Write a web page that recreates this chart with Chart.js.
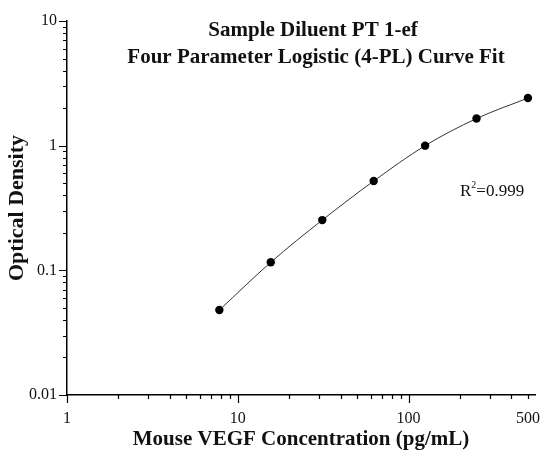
<!DOCTYPE html>
<html>
<head>
<meta charset="utf-8">
<script src="https://cdn.jsdelivr.net/npm/chart.js@4.4.0/dist/chart.umd.min.js"></script>
<style>
  html, body { margin: 0; padding: 0; background: #fff; }
  #wrap { width: 545px; height: 452px; }
</style>
</head>
<body>
<div id="wrap"><canvas id="grafico"></canvas></div>
<script>
// valores
const concentracao = [7.8, 15.6, 31.25, 62.5, 125, 250, 500];
const densidade = [0.048, 0.116, 0.253, 0.52, 1.0, 1.65, 2.41];

const ticksX = [1, 2, 3, 4, 5, 6, 7, 8, 9, 10, 20, 30, 40, 50, 60, 70, 80, 90, 100, 200, 300, 400, 500];
const decadasX = [1, 10, 100];
const rotulosX = [1, 10, 100, 500];

const ticksY = [0.01, 0.02, 0.03, 0.04, 0.05, 0.06, 0.07, 0.08, 0.09,
  0.1, 0.2, 0.3, 0.4, 0.5, 0.6, 0.7, 0.8, 0.9,
  1, 2, 3, 4, 5, 6, 7, 8, 9, 10];
const decadasY = [0.01, 0.1, 1, 10];
const rotulosY = [0.01, 0.1, 1, 10];

const titulo = ["Sample Diluent PT 1-ef", "Four Parameter Logistic (4-PL) Curve Fit"];
const tituloX = "Mouse VEGF Concentration (pg/mL)";
const tituloY = "Optical Density";
const r2 = "=0.999";

const serif = "'Liberation Serif', 'Times New Roman', serif";

// marcas maiores nas décadas, menores no resto
const marcas = {
  id: "marcas",
  afterDraw(chart) {
    const { ctx, scales: { x, y } } = chart;
    ctx.save();
    ctx.strokeStyle = "#000";
    ctx.lineWidth = 1.2;
    ctx.beginPath();
    ticksX.forEach(v => {
      const px = Math.round(x.getPixelForValue(v)) + 0.5;
      const len = decadasX.includes(v) ? 8 : 4;
      ctx.moveTo(px, y.bottom);
      ctx.lineTo(px, y.bottom + len);
    });
    ticksY.forEach(v => {
      const py = Math.round(y.getPixelForValue(v)) + 0.5;
      const len = decadasY.includes(v) ? 8 : 4;
      ctx.moveTo(x.left, py);
      ctx.lineTo(x.left - len, py);
    });
    ctx.stroke();
    ctx.restore();
  }
};

// título e R² desenhados dentro da área do gráfico
const textos = {
  id: "textos",
  afterDraw(chart) {
    const { ctx } = chart;
    ctx.save();
    ctx.fillStyle = "#111";
    ctx.textAlign = "center";
    ctx.textBaseline = "alphabetic";
    ctx.font = "bold 21px " + serif;
    ctx.fillText(titulo[0], 313, 36);
    ctx.fillText(titulo[1], 316, 63);

    ctx.textAlign = "left";
    let xr = 460;
    ctx.font = "17px " + serif;
    ctx.fillText("R", xr, 196);
    xr += ctx.measureText("R").width;
    ctx.font = "10px " + serif;
    ctx.fillText("2", xr, 188);
    xr += ctx.measureText("2").width;
    ctx.font = "17px " + serif;
    ctx.fillText(r2, xr, 196);
    ctx.restore();
  }
};

new Chart(document.getElementById("grafico"), {
  type: "scatter",
  data: {
    datasets: [{
      data: concentracao.map((c, i) => ({ x: c, y: densidade[i] })),
      showLine: true,
      borderColor: "#333",
      borderWidth: 1,
      tension: 0.4,
      cubicInterpolationMode: "monotone",
      pointRadius: 4.2,
      pointBackgroundColor: "#000",
      pointBorderWidth: 0
    }]
  },
  options: {
    responsive: true,
    maintainAspectRatio: false,
    animation: false,
    layout: { padding: { top: 21, right: 10, left: 0, bottom: 0 } },
    plugins: {
      legend: { display: false },
      tooltip: { enabled: false }
    },
    scales: {
      x: {
        type: "logarithmic",
        min: 1,
        max: 550,
        afterBuildTicks: s => { s.ticks = ticksX.map(v => ({ value: v })); },
        afterFit: s => { s.height = 57; s.paddingLeft = 0; s.paddingRight = 0; },
        grid: { display: false, drawTicks: false },
        border: { display: true, color: "#000", width: 1.5 },
        ticks: {
          autoSkip: false,
          maxRotation: 0,
          padding: 14,
          color: "#111",
          font: { family: serif, size: 16 },
          callback: v => rotulosX.includes(v) ? String(v) : ""
        },
        title: {
          display: true,
          text: tituloX,
          color: "#111",
          font: { family: serif, size: 21, weight: "bold" },
          padding: { top: 0, bottom: 0 }
        }
      },
      y: {
        type: "logarithmic",
        min: 0.01,
        max: 10,
        afterBuildTicks: s => { s.ticks = ticksY.map(v => ({ value: v })); },
        afterFit: s => { s.width = 67; },
        grid: { display: false, drawTicks: false },
        border: { display: true, color: "#000", width: 1.5 },
        ticks: {
          autoSkip: false,
          padding: 10,
          color: "#111",
          font: { family: serif, size: 16 },
          callback: v => rotulosY.includes(v) ? String(v) : ""
        },
        title: {
          display: true,
          text: tituloY,
          color: "#111",
          font: { family: serif, size: 22, weight: "bold" },
          padding: { top: 4, bottom: 0 }
        }
      }
    }
  },
  plugins: [marcas, textos]
});
</script>
</body>
</html>
